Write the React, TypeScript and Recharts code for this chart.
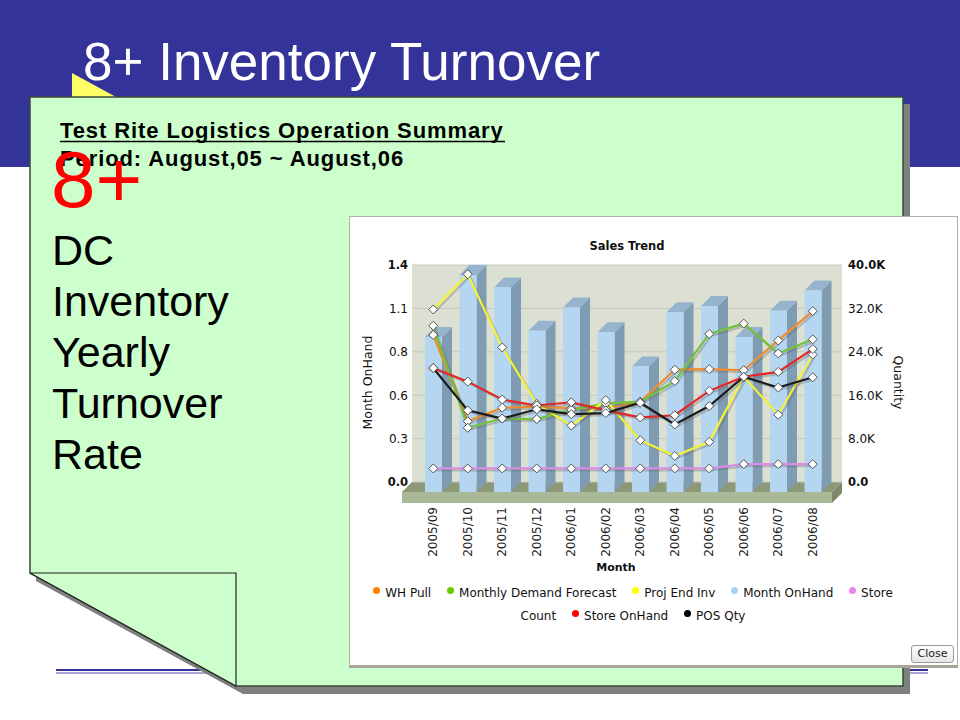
import React from 'react';
import { ComposedChart, Bar, Line, XAxis, YAxis, CartesianGrid, Legend, Label } from 'recharts';

// ---------- data ----------
const months = ['2005/09', '2005/10', '2005/11', '2005/12', '2006/01', '2006/02', '2006/03', '2006/04', '2006/05', '2006/06', '2006/07', '2006/08'];
const monthOnHand = [1.0, 1.4, 1.32, 1.04, 1.19, 1.03, 0.81, 1.16, 1.2, 1.0, 1.17, 1.3];
const whPull = [27.1, 11.2, 13.7, 13.9, 13.6, 13.6, 14.8, 20.7, 20.8, 20.6, 26.1, 31.5];
const demandForecast = [28.8, 10.0, 11.7, 11.6, 13.3, 14.5, 14.8, 18.6, 27.3, 29.2, 23.7, 26.3];
const projEndInv = [31.8, 38.3, 24.8, 14.4, 10.4, 15.1, 7.7, 4.8, 7.4, 19.4, 12.4, 23.5];
const storeCount = [2.5, 2.5, 2.5, 2.5, 2.5, 2.5, 2.5, 2.5, 2.5, 3.3, 3.3, 3.3];
const storeOnHand = [21.0, 18.5, 15.2, 14.1, 14.7, 13.2, 11.9, 12.3, 16.8, 19.4, 20.3, 24.5];
const posQty = [21.0, 13.2, 11.7, 13.4, 12.5, 12.7, 14.6, 10.6, 14.0, 19.4, 17.4, 19.3];
const leftTicks = [0, 0.28, 0.56, 0.84, 1.12, 1.4];
const rightTicks = [0, 8, 16, 24, 32, 40];

const seriesNames = ['WH Pull', 'Monthly Demand Forecast', 'Proj End Inv', 'Month OnHand', 'Store Count', 'Store OnHand', 'POS Qty'];
const seriesKeys = ['whPull', 'demandForecast', 'projEndInv', 'monthOnHand', 'storeCount', 'storeOnHand', 'posQty'];
const legendColors = ['#FF8000', '#66CC00', '#FFFF00', '#A8D0F0', '#EE82EE', '#FF0000', '#000000'];
const lineColors = ['#F08C2E', '#72C23A', '#F2F23A', '#A8D0F0', '#DA8CE6', '#E42626', '#1A1A1A'];

const data = months.map((m, i) => ({
  month: m,
  monthOnHand: monthOnHand[i],
  whPull: whPull[i],
  demandForecast: demandForecast[i],
  projEndInv: projEndInv[i],
  storeCount: storeCount[i],
  storeOnHand: storeOnHand[i],
  posQty: posQty[i],
}));

// ---------- layout ----------
const CH_W = 606;
const CH_H = 420;
const M_TOP = 48;
const L_W = 62;
const R_W = 114;
const PLOT_H = 217;
const X_H = CH_H - M_TOP - PLOT_H;
const PL = L_W;
const PR = CH_W - R_W;
const PB = M_TOP + PLOT_H;
const DX = 10;
const DY = 10;
const FONT = 'DejaVu Sans, Verdana, sans-serif';

const Bar3D = (props: any) => {
  const { x, y, width, height } = props;
  if (x == null || y == null || !width || height == null) return null;
  const base = y + height;
  const fy = y + DY;
  const fb = base + DY;
  return (
    <g>
      <polygon points={`${x + width},${fy} ${x + width + DX},${y} ${x + width + DX},${base} ${x + width},${fb}`} fill="#7F9CB3" />
      <polygon points={`${x},${fy} ${x + DX},${y} ${x + width + DX},${y} ${x + width},${fy}`} fill="#96B4CE" />
      <rect x={x} y={fy} width={width} height={fb - fy} fill="#B5D6F1" />
    </g>
  );
};

const Diamond = (props: any) => {
  const { cx, cy } = props;
  if (cx == null || cy == null) return <g />;
  const r = 4.5;
  return (
    <path
      d={`M${cx},${cy - r}L${cx + r},${cy}L${cx},${cy + r}L${cx - r},${cy}Z`}
      fill="#ffffff"
      stroke="#555"
      strokeWidth={1}
    />
  );
};

const LeftTick = (props: any) => {
  const { x, y, payload } = props;
  const v = payload.value;
  const bold = v === 0 || v === 1.4;
  return (
    <text x={x} y={y} dy="0.36em" textAnchor="end" fontSize={bold ? 11.5 : 12} fontWeight={bold ? 'bold' : 'normal'} fill="#111" fontFamily={FONT}>
      {Number(v).toFixed(1)}
    </text>
  );
};

const RightTick = (props: any) => {
  const { x, y, payload } = props;
  const v = payload.value;
  const bold = v === 0 || v === 40;
  const label = v === 0 ? '0.0' : `${Number(v).toFixed(1)}K`;
  return (
    <text x={x} y={y} dy="0.36em" textAnchor="start" fontSize={bold ? 11.5 : 12} fontWeight={bold ? 'bold' : 'normal'} fill="#111" fontFamily={FONT}>
      {label}
    </text>
  );
};

const XTick = (props: any) => {
  const { x, y, payload } = props;
  const ty = y + 25;
  return (
    <text x={x} y={ty} dy="0.35em" transform={`rotate(-90 ${x} ${ty})`} textAnchor="end" fontSize={12} fill="#222" fontFamily={FONT}>
      {payload.value}
    </text>
  );
};

const MonthTitle = () => (
  <text x={PL - DX + (PR - PL) / 2 - 1} y={PB + 85} dy="0.35em" textAnchor="middle" fontSize={11} fontWeight="bold" fill="#111" fontFamily={FONT}>
    Month
  </text>
);

const LeftTitle = () => {
  const cx = 17.5;
  const cy = M_TOP + PLOT_H / 2 + 9;
  return (
    <text x={cx} y={cy} dy="0.35em" transform={`rotate(-90 ${cx} ${cy})`} textAnchor="middle" fontSize={12.5} fill="#111" fontFamily={FONT}>
      Month OnHand
    </text>
  );
};

const RightTitle = () => {
  const cx = PR + 56.5;
  const cy = M_TOP + PLOT_H / 2 + 9;
  return (
    <text x={cx} y={cy} dy="0.35em" transform={`rotate(90 ${cx} ${cy})`} textAnchor="middle" fontSize={12.5} fill="#111" fontFamily={FONT}>
      Quantity
    </text>
  );
};

const LegendContent = () => (
  <div style={{ marginLeft: 9, width: 548, textAlign: 'center', lineHeight: '23px', fontSize: 12, fontFamily: FONT, color: '#111' }}>
    {seriesNames.map((name, i) => {
      const words = name.split(' ');
      return (
        <React.Fragment key={name}>
          <span style={{ whiteSpace: 'nowrap', marginLeft: i === 0 ? 0 : 12 }}>
            <span
              style={{
                display: 'inline-block',
                width: 7,
                height: 7,
                borderRadius: '50%',
                background: legendColors[i],
                marginRight: 5,
                verticalAlign: 'middle',
                position: 'relative',
                top: -3,
              }}
            />
            {words[0]}
          </span>
          {words.slice(1).map((w, j) => (
            <React.Fragment key={j}>
              {' '}
              <span style={{ whiteSpace: 'nowrap' }}>{w}</span>
            </React.Fragment>
          ))}{' '}
        </React.Fragment>
      );
    })}
  </div>
);

export default function App() {
  const lineSeries = [0, 1, 2, 4, 5, 6];
  return (
    <div style={{ position: 'absolute', left: 0, top: 0, width: 960, height: 720, overflow: 'hidden', background: '#fff' }}>
      <style>{`.recharts-line-curve{filter:drop-shadow(2px 2px 0px rgba(90,90,90,0.30));}`}</style>
      <svg width={960} height={720} style={{ position: 'absolute', left: 0, top: 0 }}>
        <rect x={0} y={0} width={960} height={167} fill="#333399" />
        <polygon points="72,73 72,97 116,97" fill="#FFFF66" />
        <text x={83} y={80} fontFamily="Liberation Sans, Arial, sans-serif" fontSize={53} fill="#ffffff">
          8+ Inventory Turnover
        </text>
        <line x1={56} y1={670} x2={928} y2={670} stroke="#333399" strokeWidth={2} />
        <line x1={56} y1={673} x2={928} y2={673} stroke="#8888cc" strokeWidth={1.5} />
        <polygon points="37,104 910,104 910,694 243,694 36,581" fill="#808080" />
        <polygon points="30,97 903,97 903,686 236,686 30,573" fill="#CCFFCC" stroke="#3a4a3a" strokeWidth={1.5} />
        <polygon points="30,573 236,573 236,686" fill="#CCFFCC" stroke="#222" strokeWidth={1.2} />
        <text x={60} y={138} fontFamily="Liberation Sans, Arial, sans-serif" fontSize={22} fontWeight="bold" letterSpacing={0.9} fill="#000">
          Test Rite Logistics Operation Summary
        </text>
        <line x1={60} y1={141.5} x2={505} y2={141.5} stroke="#000" strokeWidth={1.5} />
        <text x={60} y={166} fontFamily="Liberation Sans, Arial, sans-serif" fontSize={22} fontWeight="bold" letterSpacing={0.9} fill="#000">
          Period: August,05 ~ August,06
        </text>
        <text x={51} y={207} fontFamily="Liberation Sans, Arial, sans-serif" fontSize={80} fill="#FF0000">
          8+
        </text>
        {['DC', 'Inventory', 'Yearly', 'Turnover', 'Rate'].map((t, i) => (
          <text key={t} x={52} y={265 + i * 51} fontFamily="Liberation Sans, Arial, sans-serif" fontSize={43} fill="#000">
            {t}
          </text>
        ))}
      </svg>

      <div
        style={{
          position: 'absolute',
          left: 349,
          top: 216,
          width: 609,
          height: 452,
          boxSizing: 'border-box',
          background: '#ffffff',
          border: '1px solid #B4B0A6',
          borderBottom: '3px solid #A8A49A',
          fontFamily: FONT,
        }}
      >
        <svg width={CH_W} height={CH_H} style={{ position: 'absolute', left: 0, top: 0 }}>
          <polygon points={`${PL},${PB} ${PR},${PB} ${PR - DX},${PB + DY} ${PL - DX},${PB + DY}`} fill="#8D9877" />
          <rect x={PL - DX} y={PB + DY} width={PR - PL} height={11} fill="#A9B897" />
          <polygon points={`${PR - DX},${PB + DY} ${PR},${PB} ${PR},${PB + 11} ${PR - DX},${PB + DY + 11}`} fill="#7E8968" />
        </svg>
        <div
          style={{
            position: 'absolute',
            left: (PL + PR) / 2 - 100,
            top: 22,
            width: 200,
            textAlign: 'center',
            fontSize: 11.5,
            fontWeight: 'bold',
            lineHeight: '14px',
            color: '#111',
          }}
        >
          Sales Trend
        </div>
        <div style={{ position: 'absolute', left: 0, top: 0 }}>
          <ComposedChart width={CH_W} height={CH_H} data={data} margin={{ top: M_TOP, right: 0, bottom: 0, left: 0 }}>
            <CartesianGrid yAxisId="left" vertical={false} fill="#DCE0D3" fillOpacity={1} stroke="#C4C8BA" />
            <XAxis
              dataKey="month"
              height={X_H}
              interval={0}
              padding={{ left: 4, right: 12 }}
              axisLine={false}
              tickLine={false}
              tickSize={0}
              tickMargin={0}
              tick={(p: any) => <XTick {...p} />}
            >
              <Label content={() => <MonthTitle />} />
            </XAxis>
            <YAxis
              yAxisId="left"
              orientation="left"
              width={L_W}
              domain={[0, 1.4]}
              ticks={leftTicks}
              interval={0}
              axisLine={false}
              tickLine={false}
              tickSize={0}
              tickMargin={4}
              tick={(p: any) => <LeftTick {...p} />}
            >
              <Label content={() => <LeftTitle />} />
            </YAxis>
            <YAxis
              yAxisId="right"
              orientation="right"
              width={R_W}
              domain={[0, 40]}
              ticks={rightTicks}
              interval={0}
              axisLine={false}
              tickLine={false}
              tickSize={0}
              tickMargin={6}
              tick={(p: any) => <RightTick {...p} />}
            >
              <Label content={() => <RightTitle />} />
            </YAxis>
            <Bar
              yAxisId="left"
              dataKey="monthOnHand"
              name="Month OnHand"
              barSize={17}
              fill="#B5D6F1"
              shape={(p: any) => <Bar3D {...p} />}
              isAnimationActive={false}
            />
            {lineSeries.map((i) => (
              <Line
                key={seriesKeys[i]}
                yAxisId="right"
                type="linear"
                dataKey={seriesKeys[i]}
                name={seriesNames[i]}
                stroke={lineColors[i]}
                strokeWidth={2.2}
                dot={(p: any) => <Diamond key={`${seriesKeys[i]}-${p.index}`} {...p} />}
                activeDot={false}
                isAnimationActive={false}
              />
            ))}
            <Legend
              verticalAlign="middle"
              align="center"
              layout="horizontal"
              wrapperStyle={{ top: 365, left: 0, width: CH_W }}
              content={() => <LegendContent />}
            />
          </ComposedChart>
        </div>
        <div
          style={{
            position: 'absolute',
            left: 561,
            top: 428,
            width: 43,
            height: 18,
            boxSizing: 'border-box',
            border: '1px solid #9a9a9a',
            borderRadius: 3,
            background: 'linear-gradient(#ffffff, #e6e6e6)',
            fontSize: 11,
            lineHeight: '16px',
            textAlign: 'center',
            color: '#222',
          }}
        >
          Close
        </div>
      </div>
    </div>
  );
}
